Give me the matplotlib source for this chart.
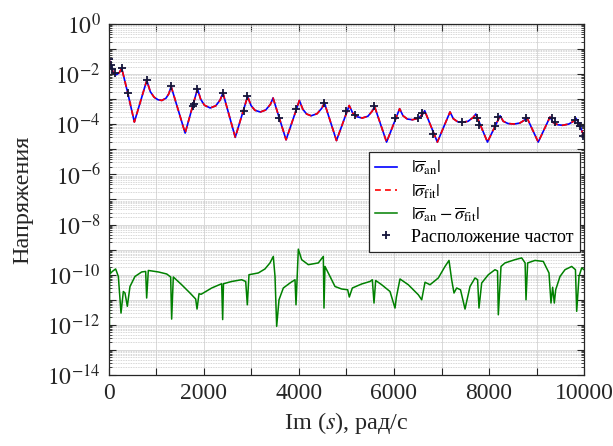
import matplotlib

matplotlib.use("Agg")

import matplotlib.pyplot as plt
import numpy as np
from matplotlib.ticker import FixedLocator, NullFormatter

plt.rcParams["font.family"] = ["Liberation Serif", "DejaVu Serif"]
plt.rcParams["mathtext.fontset"] = "stix"

# |sigma_an| (and fit, same trace) -- frequency in rad/s, log10 of magnitude
x_an = [0, 40, 91, 162, 220, 267, 395, 534, 795, 870, 950, 1030, 1112, 1200,
        1260, 1308, 1603, 1863, 1930, 2010, 2131, 2250, 2340, 2399, 2658, 2918,
        2990, 3070, 3186, 3300, 3400, 3454, 3728, 4008, 4080, 4160, 4255, 4380,
        4480, 4536, 4789, 5057, 5130, 5220, 5331, 5450, 5540, 5591, 5844, 6118,
        6190, 6280, 6386, 6510, 6600, 6646, 6913, 7179, 7250, 7340, 7441, 7560,
        7670, 7722, 7968, 8234, 8300, 8400, 8529, 8650, 8750, 8797, 9036, 9284,
        9350, 9450, 9550, 9680, 9780, 9831, 9916, 9972, 10000]
lg_an = [-1.40, -1.65, -1.95, -2.02, -1.93, -1.76, -2.75, -3.91, -2.25, -2.70,
         -2.92, -3.02, -3.05, -2.96, -2.78, -2.49, -4.35, -2.59, -3.00, -3.24,
         -3.35, -3.26, -3.03, -2.75, -4.52, -2.89, -3.25, -3.44, -3.51, -3.43,
         -3.20, -2.95, -4.62, -3.05, -3.40, -3.59, -3.66, -3.58, -3.36, -3.15,
         -4.65, -3.25, -3.55, -3.70, -3.75, -3.68, -3.48, -3.29, -4.71, -3.38,
         -3.66, -3.79, -3.82, -3.76, -3.60, -3.46, -4.71, -3.51, -3.78, -3.90,
         -3.92, -3.88, -3.72, -3.59, -4.71, -3.66, -3.88, -3.97, -3.99, -3.95,
         -3.83, -3.73, -4.71, -3.71, -3.93, -4.02, -4.04, -3.99, -3.88, -3.76,
         -4.06, -4.35, -4.48]

# |sigma_an - sigma_fit|
x_err = [0, 7, 14, 30, 70, 140, 197, 253, 302, 337, 386, 442, 547, 688, 772,
         793, 828, 1039, 1214, 1298, 1319, 1354, 1530, 1705, 1825, 1853, 1895,
         1940, 2162, 2372, 2393, 2410, 2583, 2793, 2878, 2912, 2947, 3144, 3284,
         3389, 3459, 3495, 3530, 3579, 3670, 3811, 3916, 3937, 3986, 4056, 4196,
         4407, 4512, 4526, 4547, 4653, 4758, 4898, 5025, 5059, 5123, 5319, 5495,
         5544, 5579, 5614, 5741, 5916, 6021, 6050, 6126, 6301, 6512, 6583, 6653,
         6758, 6933, 7074, 7158, 7214, 7263, 7319, 7400, 7495, 7600, 7705, 7760,
         7789, 7846, 7986, 8126, 8180, 8196, 8253, 8337, 8547, 8688, 8760, 8779,
         8814, 8968, 9143, 9263, 9305, 9340, 9375, 9404, 9495, 9600, 9741, 9820,
         9846, 9895, 9951, 10000]
lg_err = [-9.80, -12.10, -9.75, -9.95, -9.87, -9.77, -10.07, -11.53, -10.67,
          -10.73, -11.26, -10.47, -10.07, -9.89, -9.87, -10.93, -9.83, -9.89,
          -9.97, -10.09, -11.77, -10.09, -10.40, -10.73, -10.97, -11.37, -10.76,
          -10.78, -10.53, -10.36, -11.79, -10.36, -10.27, -10.20, -10.27,
          -11.20, -10.00, -9.93, -9.77, -9.53, -9.27, -10.07, -12.06, -11.00,
          -10.53, -10.33, -10.20, -11.20, -8.98, -9.40, -9.60, -9.53, -9.27,
          -11.33, -9.67, -10.07, -10.47, -10.57, -10.60, -10.89, -10.53, -10.37,
          -10.27, -10.20, -11.13, -10.23, -10.40, -10.67, -11.33, -10.90,
          -10.17, -10.40, -10.80, -11.00, -10.30, -10.40, -10.13, -9.67, -9.43,
          -10.20, -10.73, -10.53, -10.60, -11.37, -10.47, -10.13, -10.20,
          -11.33, -10.33, -10.00, -9.80, -9.85, -11.60, -9.67, -9.53, -9.40,
          -9.33, -9.53, -11.00, -9.53, -9.43, -9.47, -9.93, -11.13, -10.50,
          -11.13, -10.60, -10.07, -9.80, -9.67, -9.80, -11.46, -10.07, -9.73,
          -9.80]

# frequency locations (+ markers)
x_freq = [6, 36, 63, 120, 267, 394, 794, 1305, 1762, 1789, 1859, 2394, 2842,
          2912, 3585, 3937, 4526, 4989, 5179, 5579, 6021, 6512, 6583, 6815,
          7425, 7741, 7796, 8126, 8196, 8779, 9320, 9389, 9810, 9880, 9916, 9985]
lg_freq = [-1.40, -1.62, -1.79, -1.95, -1.76, -2.75, -2.25, -2.49, -3.26, -3.18,
           -2.59, -2.75, -3.46, -2.89, -3.75, -3.39, -3.15, -3.46, -3.62, -3.29,
           -3.75, -3.75, -3.55, -4.39, -3.92, -3.75, -4.02, -4.08, -3.71, -3.75,
           -3.75, -3.92, -3.82, -3.95, -4.08, -4.46]

y_an = 10.0 ** np.array(lg_an)
y_err = 10.0 ** np.array(lg_err)
y_freq = 10.0 ** np.array(lg_freq)

fig = plt.figure(figsize=(6.13, 4.46), dpi=100)
ax = fig.add_axes([0.1778, 0.1592, 0.7749, 0.787])

ax.semilogy(x_an, y_an, color="blue", lw=1.2,
            label=r"$|\overline{\sigma}_{\mathrm{an}}|$")
ax.semilogy(x_an, y_an, color="red", lw=1.2, ls="--", dashes=(3.5, 2.5),
            label=r"$|\overline{\sigma}_{\mathrm{fit}}|$")
ax.semilogy(x_err, y_err, color="#008000", lw=1.1,
            label=r"$|\overline{\sigma}_{\mathrm{an}}-\overline{\sigma}_{\mathrm{fit}}|$")
ax.semilogy(x_freq, y_freq, ls="none", marker="+", ms=6, mew=1.3,
            color="#15153a", label="Расположение частот")

ax.set_xlim(0, 10000)
ax.set_ylim(1e-14, 1)

xt = np.arange(0, 10001, 1000)
ax.set_xticks(xt)
ax.set_xticklabels([str(v) if v % 2000 == 0 else "" for v in xt])
yt = np.arange(-14, 1)
ax.set_yticks(10.0 ** yt)
ax.set_yticklabels([rf"$10^{{{v}}}$" if v % 2 == 0 else "" for v in yt])
minor = [m * 10.0 ** e for e in range(-14, 0) for m in range(2, 10)]
ax.yaxis.set_minor_locator(FixedLocator(minor))
ax.yaxis.set_minor_formatter(NullFormatter())

ax.tick_params(which="both", direction="in", top=True, right=True,
               labelsize=17, colors="#262626", pad=6)
ax.tick_params(which="major", length=5, width=0.8)
ax.tick_params(which="minor", length=2.5, width=0.6)
ax.tick_params(axis="x", which="minor", length=0)
for sp in ax.spines.values():
    sp.set_color("#262626")
    sp.set_linewidth(0.9)

ax.grid(which="major", color="#d9d9d9", lw=0.7)
ax.grid(which="minor", axis="y", color="#c8c8c8", lw=0.6, ls=(0, (1, 1)))
ax.set_axisbelow(True)

ax.set_xlabel("Im ($s$), рад/с", fontsize=17.5, color="#262626", labelpad=4)
ax.set_ylabel("Напряжения", fontsize=17.5, color="#262626", labelpad=10)

leg = ax.legend(loc="upper left", bbox_to_anchor=(0.547, 0.635), fontsize=13,
                frameon=True, fancybox=False, framealpha=1, edgecolor="#262626",
                handlelength=1.2, handletextpad=0.8, labelspacing=0.25,
                borderpad=0.35, borderaxespad=0)
leg.get_frame().set_linewidth(0.9)

fig.savefig("out.png", dpi=100)
